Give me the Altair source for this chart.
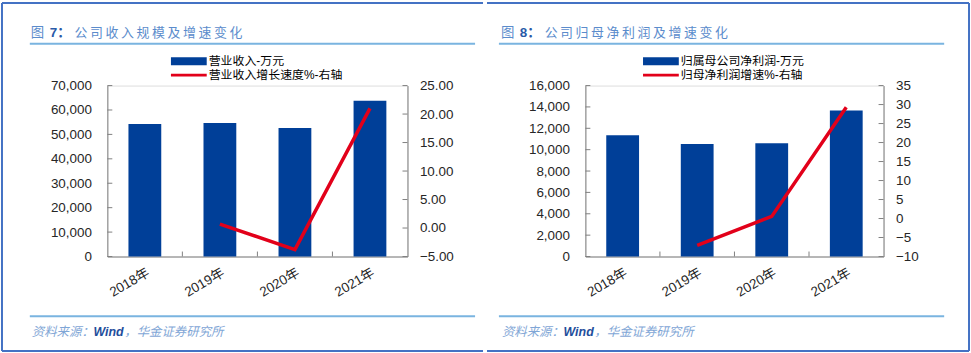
import altair as alt
import pandas as pd

# ---------------- data ----------------
years = ["2018年", "2019年", "2020年", "2021年"]
revenue = [54300, 54700, 52600, 63800]          # 万元
revenue_growth = [None, 0.7, -3.8, 21.0]        # %
profit = [11350, 10540, 10600, 13670]           # 万元
profit_growth = [None, -7.1, 0.55, 29.3]        # %

rev_ticks = [0, 10000, 20000, 30000, 40000, 50000, 60000, 70000]
rev_g_ticks = [-5, 0, 5, 10, 15, 20, 25]
pro_ticks = [0, 2000, 4000, 6000, 8000, 10000, 12000, 14000, 16000]
pro_g_ticks = [-10, -5, 0, 5, 10, 15, 20, 25, 30, 35]

title_head = ["图", "图"]
title_num = ["7：", "8："]
title_rest = ["公司收入规模及增速变化", "公司归母净利润及增速变化"]
bar_names = ["营业收入-万元", "归属母公司净利润-万元"]
line_names = ["营业收入增长速度%-右轴", "归母净利润增速%-右轴"]
source = ["资料来源：", "Wind", "，华金证券研究所"]

FONT = "Liberation Sans, Arial, Noto Sans CJK SC"
CJK = "Noto Sans CJK SC, Liberation Sans"
BAR_C = "#003f98"
LINE_C = "#e2001a"
AX_C = "#808080"
LBL_C = "#262626"
TITLE_C = "#5b8ccc"
TITLE_NUM_C = "#2a5aa8"
RULE_C = "#7ab4e0"
BORDER_C = "#4472c4"
SRC_C = "#7fa6d6"
H = 172
LFS = 13.5
THIN = "\u2009"

one = pd.DataFrame({"k": [0]})


def deco_rule(x1, x2, y1, y2, color, width):
    return alt.Chart(one).mark_rule(color=color, strokeWidth=width, clip=False).encode(
        x=alt.value(x1), x2=alt.value(x2), y=alt.value(y1), y2=alt.value(y2))


def deco_text(x, y, txt, size, color, font=CJK, style="normal", weight="normal"):
    return alt.Chart(one).mark_text(
        align="left", baseline="middle", fontSize=size, color=color, font=font,
        fontStyle=style, fontWeight=weight, clip=False
    ).encode(x=alt.value(x), y=alt.value(y), text=alt.value(txt))


def panel(W, bars_v, growth_v, bar_ticks, g_ticks, bdom, gdom, gfmt, idx, ox, side):
    df = pd.DataFrame({"year": years, "v": bars_v, "g": growth_v})
    xs = alt.X("year:N", sort=years, title=None,
               scale=alt.Scale(paddingInner=0, paddingOuter=0),
               axis=alt.Axis(labelAngle=-30, labelAlign="right", labelBaseline="top",
                             labelPadding=9, ticks=False, domainColor=AX_C,
                             labelFont=FONT, labelFontSize=LFS, labelColor=LBL_C))
    ax_left = alt.Axis(values=bar_ticks, format=",d", grid=False, ticks=False, title=None,
                       labelPadding=16, domainColor=AX_C, labelFont=FONT,
                       labelFontSize=LFS, labelColor=LBL_C)
    ax_right = alt.Axis(orient="right", values=g_ticks, format=gfmt, grid=False, title=None,
                        ticks=False, labelPadding=12, domainColor=AX_C,
                        labelFont=FONT, labelFontSize=LFS, labelColor=LBL_C)
    sc_left = alt.Scale(domain=bdom, nice=False, zero=True)
    sc_right = alt.Scale(domain=gdom, nice=False, zero=False)

    bars = alt.Chart(df).mark_bar(size=33, color=BAR_C).encode(
        x=xs, y=alt.Y("v:Q", title=None, scale=sc_left, axis=ax_left))
    lt = pd.DataFrame({"v": bar_ticks})
    left_ticks = alt.Chart(lt).mark_rule(color=AX_C).encode(
        y=alt.Y("v:Q", title=None, scale=sc_left, axis=ax_left),
        x=alt.value(0), x2=alt.value(5))
    xt = pd.DataFrame({"year": years[1:]})
    x_ticks = alt.Chart(xt).mark_rule(color=AX_C).encode(
        x=alt.X("year:N", sort=years, bandPosition=0, title=None),
        y=alt.value(H), y2=alt.value(H - 5))

    line = alt.Chart(df).transform_filter("datum.g != null").mark_line(
        color=LINE_C, strokeWidth=3.5).encode(
        x=alt.X("year:N", sort=years, title=None),
        y=alt.Y("g:Q", title=None, scale=sc_right, axis=ax_right))
    rt = pd.DataFrame({"g": g_ticks})
    right_ticks = alt.Chart(rt).mark_rule(color=AX_C).encode(
        y=alt.Y("g:Q", title=None, scale=sc_right, axis=ax_right),
        x=alt.value(W - 5), x2=alt.value(W))

    # page furniture, in pixels relative to the plot origin
    tx = {0: -77, 1: -85}[idx]
    ux1, ux2 = {0: (-78, 370), 1: (-87, 361)}[idx]
    lx = {0: 64, 1: 58}[idx]
    deco = [
        deco_text(tx, -53, title_head[idx], 13.5, TITLE_C),
        deco_text(tx + 19, -53, title_num[idx], 13.5, TITLE_NUM_C, font=FONT, weight="bold"),
        deco_text(tx + 44, -53, THIN.join(title_rest[idx]), 13, TITLE_C),
        deco_rule(ux1, ux2, -42, -42, RULE_C, 2),
        deco_rule(ux1, ux2, 232, 232, RULE_C, 2),
        alt.Chart(one).mark_rect(color=BAR_C).encode(
            x=alt.value(lx), x2=alt.value(lx + 36), y=alt.value(-28.5), y2=alt.value(-20.5)),
        deco_rule(lx, lx + 36, -10.5, -10.5, LINE_C, 3),
        deco_text(lx + 38, -24.5, bar_names[idx], 12, "#000000", font=FONT),
        deco_text(lx + 38, -10.5, line_names[idx], 12, "#000000", font=FONT),
        deco_text(tx + 1, 248, source[0], 12.5, SRC_C, style="italic"),
        deco_text(tx + 63, 248, source[1], 12.5, "#1f4e9c", font=FONT, style="italic",
                  weight="bold"),
        deco_text(tx + 94, 248, source[2], 12.5, SRC_C, style="italic"),
    ]
    if side == "left":
        deco += [
            deco_rule(-106, -106, -83, 267, BORDER_C, 2),
            deco_rule(-106, ox, -83, -83, BORDER_C, 2),
            deco_rule(-106, ox, 267, 267, BORDER_C, 2),
        ]
    else:
        deco += [
            deco_rule(386, 386, -83, 267, BORDER_C, 2),
            deco_rule(ox, 386, -83, -83, BORDER_C, 2),
            deco_rule(ox, 386, 267, 267, BORDER_C, 2),
        ]

    left_layer = alt.layer(bars, left_ticks, x_ticks, *deco)
    right_layer = alt.layer(line, right_ticks)
    return alt.layer(left_layer, right_layer).resolve_scale(y="independent").properties(
        width=W, height=H)


p1 = panel(302, revenue, revenue_growth, rev_ticks, rev_g_ticks, [0, 70000], [-5, 25],
           ".2f", 0, 378, "left")
p2 = panel(300, profit, profit_growth, pro_ticks, pro_g_ticks, [0, 16000], [-10, 35],
           "d", 1, -99, "right")

chart = alt.hconcat(p1, p2, spacing=0).properties(padding=0).configure_view(
    stroke=None).configure(background="white")

chart.save("out.html", embed_options={"renderer": "svg", "actions": False})
